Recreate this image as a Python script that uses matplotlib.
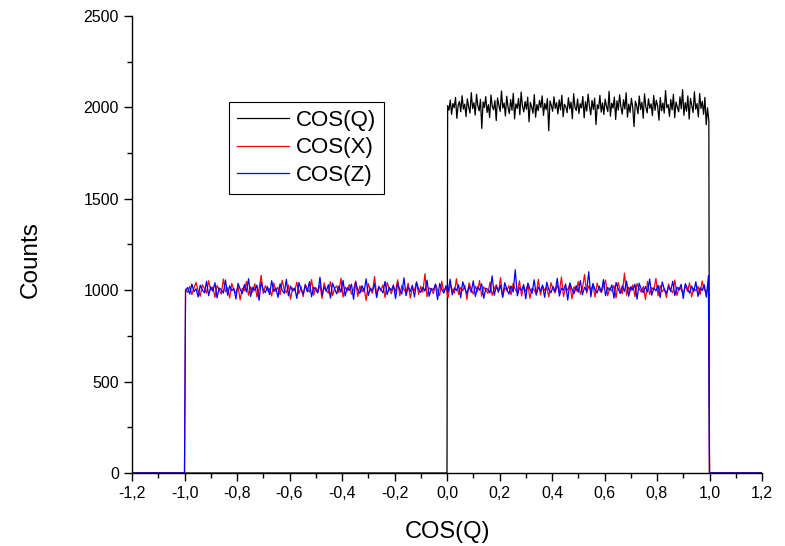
import numpy as np
import matplotlib
matplotlib.use('Agg')
import matplotlib.pyplot as plt
from matplotlib.ticker import MultipleLocator, FuncFormatter

plt.rcParams['font.family'] = ['Liberation Sans', 'DejaVu Sans']

# histogram counts (bin centres below)
cos_q = [
    2010, 1985, 2040, 1962, 2021, 1998, 2055, 1940, 2012, 2033, 1976, 2064, 1991, 2018, 1950, 2047, 2002, 1969, 2081, 1993,
    2026, 1958, 2072, 2009, 1981, 2044, 1885, 2030, 1999, 2059, 1972, 2015, 1945, 2068, 2005, 1987, 2037, 1928, 2052, 2013,
    1978, 2090, 1996, 2024, 1953, 2061, 2001, 1966, 2043, 1984, 2077, 1937, 2019, 1995, 2049, 1960, 2084, 2007, 1975, 2032,
    1990, 2056, 1921, 2027, 2003, 1968, 2070, 1946, 2016, 1982, 2039, 1999, 2063, 1956, 2022, 1988, 2048, 1872, 2035, 2011,
    1979, 2058, 1994, 2026, 1964, 2041, 1986, 2067, 1949, 2017, 2004, 1971, 2053, 1992, 2029, 1938, 2075, 2000, 1983, 2046,
    1967, 2020, 1997, 2060, 1943, 2031, 1980, 2073, 2008, 1959, 2038, 1989, 2051, 1906, 2014, 1993, 2066, 1974, 2025, 1961,
    2045, 2006, 1977, 2088, 1952, 2023, 1996, 2057, 1934, 2036, 1985, 2069, 2002, 1963, 2042, 1991, 2080, 1947, 2018, 1973,
    2050, 1999, 1895, 2034, 2010, 1965, 2062, 1988, 2028, 1941, 2074, 2003, 1970, 2047, 1995, 2019, 1955, 2065, 1984, 2039,
    2007, 1930, 2054, 1981, 2024, 1969, 2092, 1998, 2015, 1951, 2043, 1986, 2071, 1944, 2030, 2001, 1976, 2058, 1992, 2097,
    1957, 2026, 1979, 2063, 1936, 2049, 2012, 1972, 2085, 1990, 2021, 1948, 2076, 1994, 2033, 1962, 2055, 1905, 1998, 1925,
]

cos_x = [
    1005, 988, 1021, 976, 1012, 1043, 995, 967, 1030, 1008, 984, 1052, 999, 1017, 961, 1026, 1003, 979, 1061, 992,
    1014, 958, 1037, 1001, 985, 1022, 947, 1011, 996, 1048, 972, 1019, 990, 1035, 963, 1007, 1081, 982, 1025, 998,
    1009, 968, 1040, 993, 1016, 975, 1054, 1002, 986, 1028, 951, 1013, 997, 1044, 980, 1020, 965, 1033, 1006, 989,
    1058, 973, 1015, 994, 1027, 955, 1039, 1000, 983, 1047, 970, 1010, 1024, 987, 1066, 962, 1018, 995, 1031, 978,
    1004, 1050, 966, 1023, 991, 1012, 944, 1036, 1001, 984, 1075, 974, 1016, 998, 1029, 960, 1042, 1008, 981, 1019,
    993, 1057, 969, 1026, 1003, 986, 1038, 957, 1011, 999, 1046, 977, 1021, 990, 1090, 964, 1013, 1005, 982, 1034,
    1000, 971, 1049, 988, 1017, 959, 1032, 1002, 985, 1063, 976, 1015, 996, 1027, 949, 1040, 1007, 979, 1022, 992,
    1053, 967, 1018, 1001, 983, 1045, 972, 1009, 1030, 987, 1069, 961, 1014, 997, 1025, 975, 1037, 1004, 988, 1051,
    968, 1020, 993, 1033, 956, 1011, 1002, 980, 1059, 974, 1024, 999, 1016, 963, 1041, 1006, 985, 1028, 991, 1072,
    966, 1013, 1000, 1035, 953, 1019, 995, 1047, 978, 1010, 1086, 984, 1023, 998, 1031, 962, 1039, 1003, 987, 1018,
    1055, 970, 1012, 994, 1026, 958, 1043, 1001, 982, 1093, 973, 1017, 996, 1029, 965, 1036, 1008, 989, 1021, 950,
    1048, 977, 1014, 1002, 1064, 969, 1025, 992, 1010, 960, 1034, 999, 986, 1056, 971, 1016, 1004, 981, 1027, 993,
    1040, 964, 1011, 997, 1022, 975, 1050, 1003, 988, 1015,
]

cos_z = [
    998, 1015, 979, 1034, 992, 1008, 963, 1027, 1001, 986, 1049, 970, 1019, 995, 1041, 958, 1012, 1003, 984, 1056,
    973, 1024, 997, 1010, 952, 1038, 1006, 981, 1031, 990, 1063, 966, 1016, 999, 1028, 945, 1044, 1002, 987, 1020,
    976, 1052, 993, 1013, 961, 1035, 1000, 983, 1059, 969, 1022, 996, 1011, 955, 1042, 1005, 978, 1026, 991, 1047,
    964, 1017, 1001, 985, 1071, 972, 1018, 994, 1030, 957, 1039, 1007, 980, 1023, 989, 1054, 968, 1014, 998, 1033,
    950, 1045, 1003, 982, 1025, 992, 1062, 971, 1012, 996, 1036, 960, 1021, 1004, 986, 1048, 975, 1015, 999, 1029,
    954, 1040, 1002, 979, 1068, 970, 1019, 993, 1027, 963, 1043, 1006, 988, 1016, 995, 1055, 967, 1010, 1001, 1032,
    948, 1037, 1004, 984, 1024, 991, 1060, 974, 1013, 997, 1030, 959, 1046, 1008, 981, 1022, 988, 1051, 966, 1018,
    1000, 1035, 956, 1011, 1003, 985, 1078, 972, 1020, 994, 1026, 962, 1041, 1005, 979, 1023, 990, 1112, 969, 1014,
    998, 1031, 953, 1039, 1007, 983, 1057, 973, 1017, 995, 1028, 961, 1044, 1002, 986, 1021, 992, 1065, 968, 1012,
    1000, 1034, 946, 1040, 1006, 980, 1025, 989, 1053, 975, 1016, 997, 1101, 964, 1037, 1003, 985, 1022, 991, 1058,
    970, 1015, 999, 1029, 957, 1042, 1008, 982, 1024, 993, 1050, 967, 1019, 1001, 1033, 951, 1038, 1005, 987, 1020,
    990, 1061, 973, 1013, 996, 1027, 960, 1045, 1004, 983, 1021, 994, 1049, 971, 1017, 1000, 1032, 955, 1036, 1009,
    984, 1023, 992, 1046, 966, 1014, 998, 1030, 962, 1080,
]

# support of each distribution and the plotted range
q_range = (0.0, 1.0)
xz_range = (-1.0, 1.0)
x_lim = (-1.2, 1.2)


def full_curve(vals, lo, hi):
    """Bin centres inside [lo, hi], padded with zero counts out to the axis limits."""
    n = len(vals)
    w = (hi - lo) / n
    centres = lo + w * (np.arange(n) + 0.5)
    x = np.concatenate([[x_lim[0], lo], centres, [hi, x_lim[1]]])
    y = np.concatenate([[0, 0], vals, [0, 0]])
    return x, y


fig, ax = plt.subplots(figsize=(7.85, 5.46), dpi=100)
fig.subplots_adjust(left=132 / 785, right=762 / 785, bottom=1 - 473 / 546, top=1 - 16 / 546)

xq, yq = full_curve(cos_q, *q_range)
xx, yx = full_curve(cos_x, *xz_range)
xz, yz = full_curve(cos_z, *xz_range)

ax.plot(xq, yq, color='black', lw=0.9, label='COS(Q)')
ax.plot(xx, yx, color='#ff0000', lw=0.9, label='COS(X)')
ax.plot(xz, yz, color='#0000ff', lw=0.9, label='COS(Z)')

ax.set_xlim(*x_lim)
ax.set_ylim(0, 2500)
ax.xaxis.set_major_locator(MultipleLocator(0.2))
ax.xaxis.set_minor_locator(MultipleLocator(0.1))
ax.yaxis.set_major_locator(MultipleLocator(500))
ax.yaxis.set_minor_locator(MultipleLocator(250))
ax.xaxis.set_major_formatter(FuncFormatter(lambda v, p: f'{v:.1f}'.replace('.', ',').replace('-0,0', '0,0')))

for side in ('top', 'right'):
    ax.spines[side].set_visible(False)
for side in ('left', 'bottom'):
    ax.spines[side].set_linewidth(1.0)
ax.tick_params(which='major', direction='out', length=6, width=1, labelsize=11.5)
ax.tick_params(which='minor', direction='out', length=3.5, width=1)

ax.set_xlabel('COS(Q)', fontsize=17, labelpad=14)
ax.set_ylabel('Counts', fontsize=17.5)
ax.yaxis.set_label_coords(-0.144, 0.467)

leg = ax.legend(loc='upper left', bbox_to_anchor=(0.154, 0.812), fontsize=16,
                frameon=True, fancybox=False, edgecolor='black', framealpha=1,
                handlelength=2.35, borderpad=0.35, labelspacing=0.3, handletextpad=0.3,
                borderaxespad=0)
leg.get_frame().set_linewidth(0.8)

fig.savefig('out.png', dpi=100)
